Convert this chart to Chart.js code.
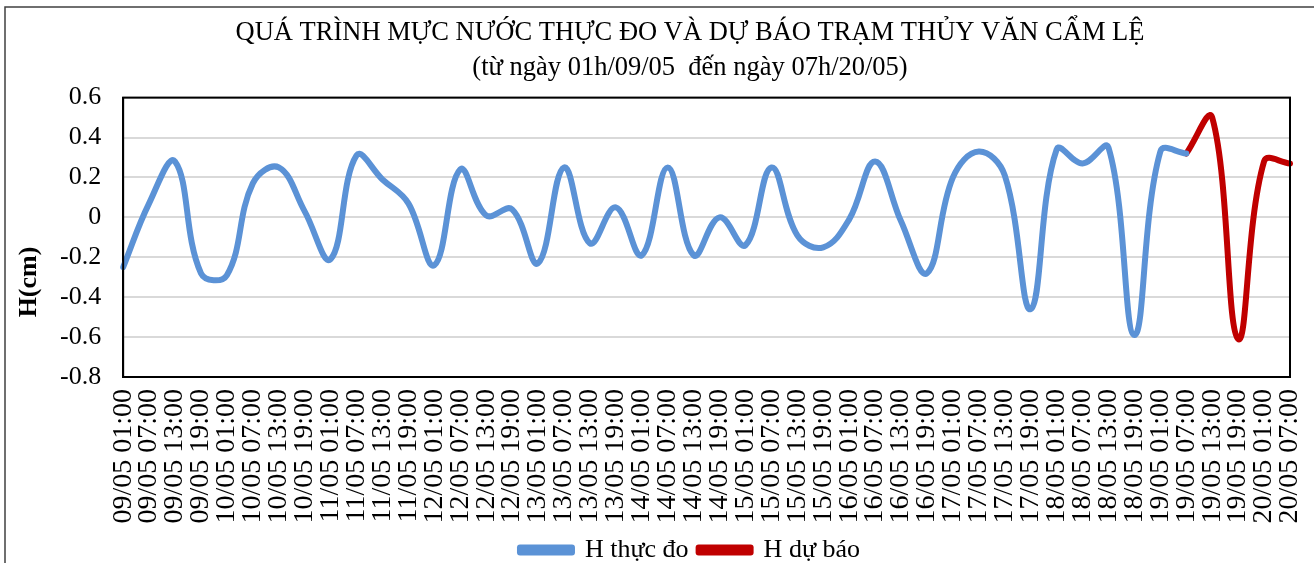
<!DOCTYPE html>
<html>
<head>
<meta charset="utf-8">
<script src="https://cdn.jsdelivr.net/npm/chart.js@4.4.0/dist/chart.umd.min.js"></script>
<style>
html, body { margin: 0; padding: 0; overflow: hidden; background: #fff; }
#wrap { position: relative; width: 1380px; height: 573px; }
</style>
</head>
<body>
<div id="wrap"><canvas id="myChart" width="1380" height="573"></canvas></div>
<script>
// thoi gian (6 gio mot lan)
let labels = [
  "09/05 01:00", "09/05 07:00", "09/05 13:00", "09/05 19:00",
  "10/05 01:00", "10/05 07:00", "10/05 13:00", "10/05 19:00",
  "11/05 01:00", "11/05 07:00", "11/05 13:00", "11/05 19:00",
  "12/05 01:00", "12/05 07:00", "12/05 13:00", "12/05 19:00",
  "13/05 01:00", "13/05 07:00", "13/05 13:00", "13/05 19:00",
  "14/05 01:00", "14/05 07:00", "14/05 13:00", "14/05 19:00",
  "15/05 01:00", "15/05 07:00", "15/05 13:00", "15/05 19:00",
  "16/05 01:00", "16/05 07:00", "16/05 13:00", "16/05 19:00",
  "17/05 01:00", "17/05 07:00", "17/05 13:00", "17/05 19:00",
  "18/05 01:00", "18/05 07:00", "18/05 13:00", "18/05 19:00",
  "19/05 01:00", "19/05 07:00", "19/05 13:00", "19/05 19:00",
  "20/05 01:00", "20/05 07:00"
]

// H thuc do
let hThucDo = [
  -0.25, 0.07, 0.28, -0.28, -0.29, 0.17, 0.25, 0.03,
  -0.21, 0.31, 0.19, 0.07, -0.24, 0.24, 0.01, 0.04,
  -0.23, 0.25, -0.13, 0.05, -0.19, 0.25, -0.19, 0.0,
  -0.14, 0.25, -0.09, -0.15, -0.01, 0.28, -0.02, -0.28,
  0.2, 0.33, 0.21, -0.46, 0.34, 0.27, 0.35, -0.59,
  0.33, 0.32, null, null, null, null
]

// H du bao
let hDuBao = [
  null, null, null, null, null, null, null, null,
  null, null, null, null, null, null, null, null,
  null, null, null, null, null, null, null, null,
  null, null, null, null, null, null, null, null,
  null, null, null, null, null, null, null, null,
  null, 0.32, 0.5, -0.61, 0.28, 0.27
]

let yTicks = { min: -0.8, max: 0.6, step: 0.2 }

Chart.defaults.font.family = "'Liberation Serif', 'Times New Roman', serif"
Chart.defaults.font.size = 26
Chart.defaults.color = '#000'

// khung ngoai, vien vung ve va nhan truc Y
let framePlugin = {
  id: 'framePlugin',
  beforeDraw(chart) {
    let c = chart.ctx
    c.save()
    c.strokeStyle = '#404040'
    c.lineWidth = 1.5
    c.strokeRect(5, 7, 1500, 700)
    c.restore()
  },
  afterDraw(chart) {
    let c = chart.ctx
    let a = chart.chartArea
    c.save()
    c.strokeStyle = '#000'
    c.lineWidth = 2
    c.strokeRect(a.left, a.top, a.right - a.left, a.bottom - a.top)
    c.translate(29, 282)
    c.rotate(-Math.PI / 2)
    c.font = "bold 26px 'Liberation Serif', 'Times New Roman', serif"
    c.fillStyle = '#000'
    c.textAlign = 'center'
    c.textBaseline = 'middle'
    c.fillText('H(cm)', 0, 0)
    c.restore()
  }
}

let ctx = document.querySelector('#myChart')
let graphData = {
  type: 'line',
  data: {
    labels: labels,
    datasets: [{
      label: 'H thực đo',
      data: hThucDo,
      borderColor: '#5B92D6',
      backgroundColor: '#5B92D6',
      borderWidth: 6,
      pointRadius: 0,
      tension: 0.4,
      borderCapStyle: 'round',
      borderJoinStyle: 'round',
      spanGaps: false
    }, {
      label: 'H dự báo',
      data: hDuBao,
      borderColor: '#C00000',
      backgroundColor: '#C00000',
      borderWidth: 6,
      pointRadius: 0,
      tension: 0.4,
      borderCapStyle: 'round',
      borderJoinStyle: 'round',
      spanGaps: false
    }]
  },
  options: {
    responsive: false,
    animation: false,
    layout: { padding: { left: 38, right: 38, top: 0, bottom: 0 } },
    plugins: {
      title: {
        display: true,
        text: 'QUÁ TRÌNH MỰC NƯỚC THỰC ĐO VÀ DỰ BÁO TRẠM THỦY VĂN CẨM LỆ',
        font: { size: 26.5, weight: 'normal' },
        color: '#000',
        padding: { top: 17, bottom: 0 }
      },
      subtitle: {
        display: true,
        text: '(từ ngày 01h/09/05  đến ngày 07h/20/05)',
        font: { size: 26.5 },
        color: '#000',
        padding: { top: 3, bottom: 14 }
      },
      legend: {
        position: 'bottom',
        labels: {
          boxWidth: 52,
          boxHeight: 5,
          padding: 10,
          font: { size: 26 },
          color: '#000'
        }
      },
      tooltip: { enabled: false }
    },
    scales: {
      x: {
        grid: { display: false, drawTicks: false },
        border: { display: true, color: '#000', width: 2 },
        ticks: {
          autoSkip: false,
          maxRotation: 90,
          minRotation: 90,
          padding: 12,
          font: { size: 28 },
          color: '#000'
        },
        afterFit(scale) { scale.height = 150 }
      },
      y: {
        min: yTicks.min,
        max: yTicks.max,
        grid: { color: '#D9D9D9', lineWidth: 2, drawTicks: false },
        border: { display: true, color: '#000', width: 2 },
        ticks: {
          stepSize: yTicks.step,
          padding: 22,
          font: { size: 26 },
          color: '#000',
          callback: v => Math.abs(v) < 1e-9 ? '0' : v.toFixed(1)
        }
      },
      // truc phai an, chi de giu khoang trong ben phai
      y2: {
        position: 'right',
        grid: { display: false, drawTicks: false },
        border: { display: false },
        ticks: { display: false },
        afterFit(scale) { scale.width = 52 }
      }
    }
  },
  plugins: [framePlugin]
}
let myChart = new Chart(ctx, graphData)
</script>
</body>
</html>
